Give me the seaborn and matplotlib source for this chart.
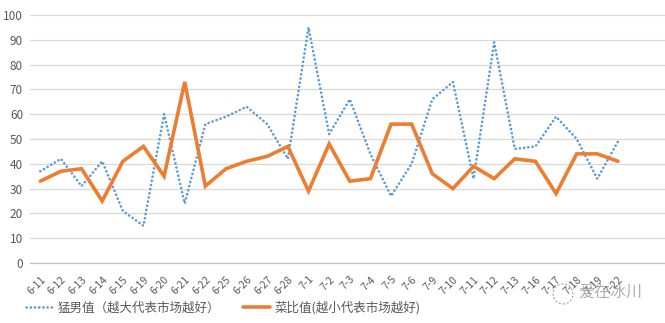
import matplotlib
matplotlib.use("Agg")
import matplotlib.pyplot as plt
import seaborn as sns
import pandas as pd
from matplotlib.patches import Ellipse

dates = ["6-11", "6-12", "6-13", "6-14", "6-15", "6-19", "6-20", "6-21", "6-22", "6-25",
         "6-26", "6-27", "6-28", "7-1", "7-2", "7-3", "7-4", "7-5", "7-6", "7-9",
         "7-10", "7-11", "7-12", "7-13", "7-16", "7-17", "7-18", "7-19", "7-22"]
mengnan = [37, 42, 31, 41, 21, 15, 60, 24, 56, 59,
           63, 56, 42, 95, 52, 66, 44, 27, 40, 66,
           73, 34, 89, 46, 47, 59, 50, 34, 49]
caibi = [33, 37, 38, 25, 41, 47, 35, 73, 31, 38,
         41, 43, 47, 29, 48, 33, 34, 56, 56, 36,
         30, 39, 34, 42, 41, 28, 44, 44, 41]
yticks = [0, 10, 20, 30, 40, 50, 60, 70, 80, 90, 100]
label_a = "猛男值（越大代表市场越好）"
label_b = "菜比值(越小代表市场越好)"
n_slots = 31

sns.set_theme(style="white")
plt.rcParams['font.family'] = ['Noto Sans CJK SC', 'DejaVu Sans']

df = pd.DataFrame({"date": dates, "a": mengnan, "b": caibi})
df["pos"] = range(len(dates))

fig = plt.figure(figsize=(6.65, 3.23), dpi=100)
ax = fig.add_axes([30 / 665, 60 / 323, 31 * 20.63 / 665, 248 / 323])

sns.lineplot(data=df, x="pos", y="a", ax=ax, color="#5B9BD5", linewidth=1.9,
             label=label_a)
sns.lineplot(data=df, x="pos", y="b", ax=ax, color="#ED7D31", linewidth=2.6,
             label=label_b)
blue = ax.lines[0]
blue.set_linestyle((0, (0.05, 1.55)))
blue.set_dash_capstyle("round")
ax.lines[1].set_solid_joinstyle("miter")

ax.set_xlim(-0.5, n_slots - 0.5)
ax.set_ylim(0, 100)
ax.set_yticks(yticks)
ax.set_yticklabels([str(v) for v in yticks], fontsize=8.5, color="#595959")
ax.yaxis.grid(True, color="#D9D9D9", linewidth=0.9)
ax.set_axisbelow(True)
ax.set_xticks(range(len(dates)))
ax.set_xticklabels(dates, rotation=45, ha="right", rotation_mode="anchor",
                   fontsize=7.5, color="#595959")
ax.set_xticks([i - 0.5 for i in range(n_slots + 1)], minor=True)
ax.tick_params(axis="x", which="major", length=0, pad=8)
ax.tick_params(axis="x", which="minor", length=4, color="#BFBFBF", width=0.8)
ax.tick_params(axis="y", length=0, pad=5)
for s in ["top", "right", "left"]:
    ax.spines[s].set_visible(False)
ax.spines["bottom"].set_color("#BFBFBF")
ax.spines["bottom"].set_linewidth(0.9)
ax.set_xlabel("")
ax.set_ylabel("")

leg = ax.legend(loc="center left", bbox_to_anchor=(26 / 665, 15 / 323),
                bbox_transform=fig.transFigure, ncol=2, frameon=False,
                fontsize=9, handlelength=2.2, handletextpad=0.35,
                columnspacing=1.8, borderaxespad=0, borderpad=0)
for t in leg.get_texts():
    t.set_color("#595959")

# watermark
fig.text(578 / 665, 1 - 293 / 323, "爱在冰川", fontsize=11.5, color="#9A9A9A",
         alpha=0.8, va="center", ha="left")
fig.add_artist(Ellipse((563 / 665, 1 - 294 / 323), 20 / 665, 20 / 323,
                       transform=fig.transFigure, fill=False, ec="#A8A8A8",
                       lw=0.8, ls=(0, (2, 1.5))))

fig.savefig("out.png", dpi=100)
